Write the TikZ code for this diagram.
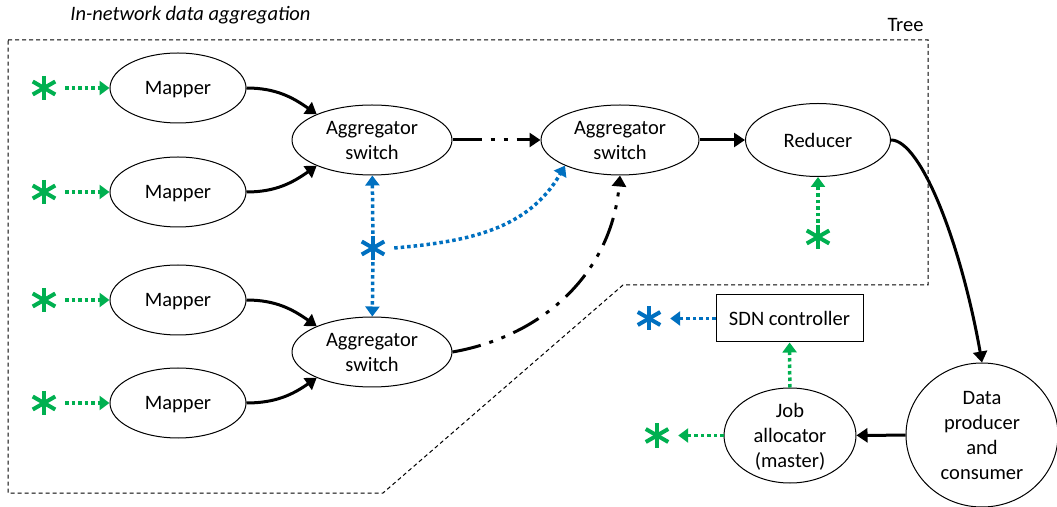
\documentclass[tikz,border=0pt]{standalone}
\usepackage{fontspec}
\setmainfont{Carlito}
\usetikzlibrary{shapes.geometric,arrows.meta,calc}
\definecolor{ggreen}{HTML}{00B050}
\definecolor{bblue}{HTML}{0070C0}
\tikzset{
  base/.style={font=\fontsize{20.5}{25}\selectfont, align=center},
  ell/.style={ellipse, draw, line width=1pt, inner sep=0pt, base, text depth=0pt},
  boundary/.style={line width=1pt, dash pattern=on 4pt off 3pt},
  tarrow/.style={line width=3pt, -{Triangle[length=11pt,width=14pt]}},
  ddot/.style={tarrow, dash pattern=on 29pt off 9pt on 4pt off 9pt on 4pt off 9pt},
  cdot/.style={#1, line width=3.5pt, dash pattern=on 3.5pt off 3pt, -{Triangle[length=10pt,width=14pt]}},
  gdot/.style={cdot=ggreen},
  bdot/.style={cdot=bblue},
  starnode/.style={rectangle, minimum width=42pt, minimum height=28pt, inner sep=0pt,
    path picture={
      \foreach \a/\r in {90/12pt,30/13pt,150/13pt}{
        \draw[#1, line width=4pt]
          ($(path picture bounding box.center)+(\a:\r)$) --
          ($(path picture bounding box.center)+(\a+180:\r)$);
      }}},
  gstar/.style={starnode=ggreen},
  bstarst/.style={starnode=bblue},
}
\begin{document}
\begin{tikzpicture}[x=1pt,y=1pt]
\useasboundingbox (0,0) rectangle (1057,506);

\node[font=\fontsize{20.5}{25}\selectfont\itshape] (title) at (190.5,491) {In-network data aggregation};
\node[base] (tree) at (905.5,481) {Tree};
\draw[boundary] (8,466) -- (928,466) -- (928,221) -- (623,221) -- (383,13) -- (8,13) -- cycle;

% mappers
\node[ell, minimum width=136pt, minimum height=70pt] (m1) at (178,418) {Mapper};
\node[ell, minimum width=136pt, minimum height=70pt] (m2) at (178,314) {Mapper};
\node[ell, minimum width=136pt, minimum height=70pt] (m3) at (178,206) {Mapper};
\node[ell, minimum width=136pt, minimum height=70pt] (m4) at (178,103) {Mapper};

\node[gstar] (g1) at (44,418) {};
\node[gstar] (g2) at (44,314) {};
\node[gstar] (g3) at (44,206) {};
\node[gstar] (g4) at (44,103) {};

% aggregators, reducer
\node[ell, minimum width=160pt, minimum height=70pt] (a1) at (372,366) {Aggregator\\switch};
\node[ell, minimum width=160pt, minimum height=70pt] (a3) at (372,154) {Aggregator\\switch};
\node[ell, minimum width=158pt, minimum height=70pt] (a2) at (620,366) {Aggregator\\switch};
\node[ell, minimum width=145pt, minimum height=73pt] (red) at (818,366) {Reducer};

\node[bstarst] (bs) at (373,258) {};
\node[gstar] (rs) at (818,269) {};

% lower right
\node[draw, line width=1pt, base, minimum width=147pt, minimum height=47pt, inner sep=0pt] (sdn) at (789.5,187.5) {SDN controller};
\node[bstarst] (ss) at (649,187.5) {};
\node[ell, minimum width=132pt, minimum height=95pt, label={[base, text depth=0pt]center:Job\\allocator\\(master)}] (job) at (790,70.5) {};
\node[gstar] (js) at (657,70.5) {};
\node[ell, minimum width=152pt, minimum height=144pt, label={[base, text depth=0pt]center:Data\\producer\\and\\consumer}] (dp) at (982,71) {};

% connectors
\draw[gdot] (g1) -- (m1);
\draw[gdot] (g2) -- (m2);
\draw[gdot] (g3) -- (m3);
\draw[gdot] (g4) -- (m4);

\draw[tarrow] (m1.east) to[out=0,in=145] (a1.155);
\draw[tarrow] (m2.east) to[out=0,in=215] (a1.205);
\draw[tarrow] (m3.east) to[out=0,in=145] (a3.155);
\draw[tarrow] (m4.east) to[out=0,in=215] (a3.205);

\draw[ddot] (a1) -- (a2);
\draw[ddot] (a3.east) to[out=10,in=265] (a2.south);
\draw[tarrow] (a2) -- (red);
\draw[tarrow] (red.east) .. controls +(30,0) and +(100:120) .. (dp.north);
\draw[tarrow] (dp) -- (job);

\draw[bdot] (bs) -- (a1);
\draw[bdot] (bs) -- (a3);
\draw[bdot] (bs.east) to[out=5,in=240] (a2.205);
\draw[gdot] (rs) -- (red);

\draw[bdot] (sdn) -- (ss);
\draw[gdot] (job) -- (sdn);
\draw[gdot] (job) -- (js);
\end{tikzpicture}
\end{document}
